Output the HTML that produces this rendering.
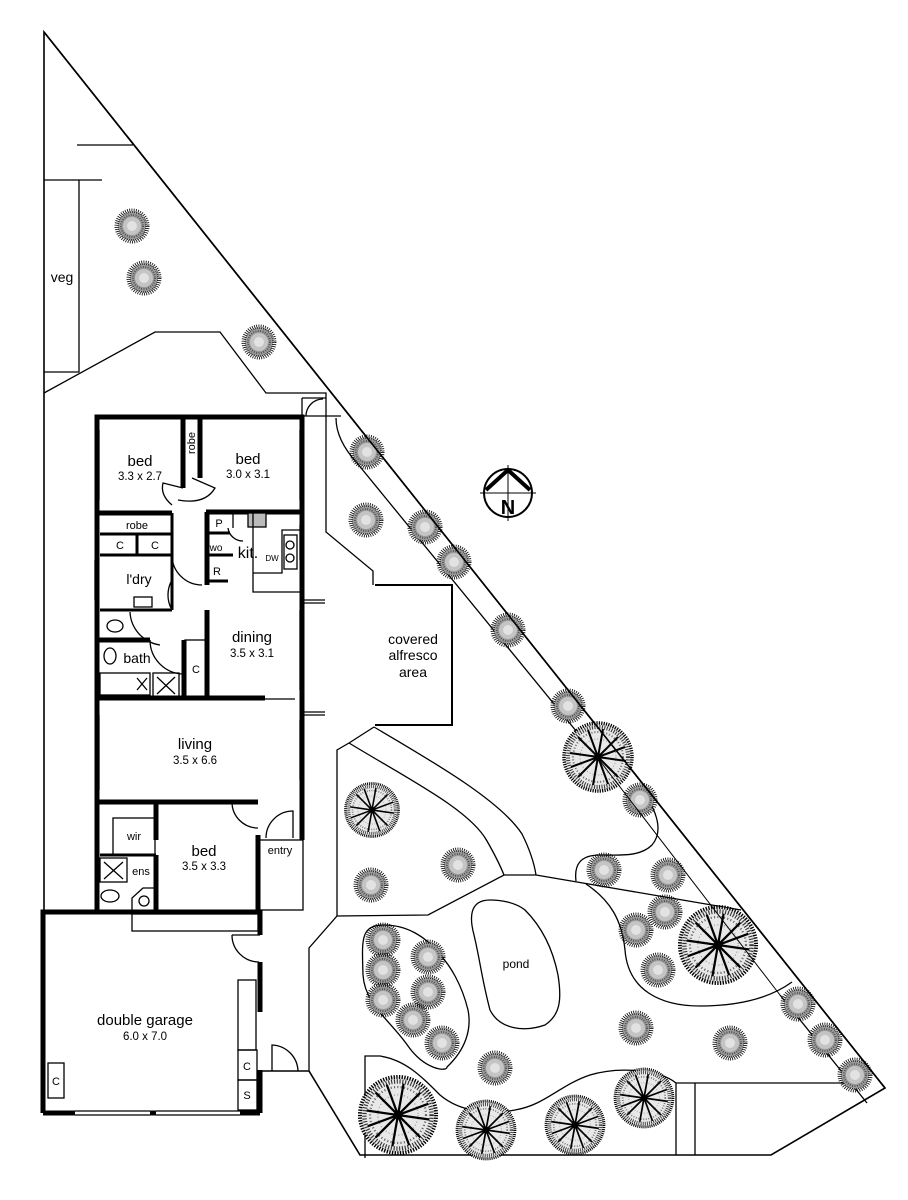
<!DOCTYPE html>
<html><head><meta charset="utf-8"><style>
html,body{margin:0;padding:0;background:#fff}
svg{display:block}
text{font-family:"Liberation Sans",sans-serif;fill:#000}
.l{font-size:15px;text-anchor:middle}
.d{font-size:11.5px;text-anchor:middle}
.s{font-size:11px;text-anchor:middle}
</style></head><body>
<svg width="908" height="1200" viewBox="0 0 908 1200" xmlns="http://www.w3.org/2000/svg">
<defs>
<symbol id="sh" viewBox="-20 -20 40 40" overflow="visible">
<circle r="16" fill="none" stroke="#000" stroke-width="3" stroke-dasharray="0.8 1.4"/>
<circle r="14" fill="#9a9a9a" stroke="#222" stroke-width="1.5" stroke-dasharray="1 1"/>
<circle r="9" fill="#c4c4c4"/>
<circle r="11" fill="none" stroke="#444" stroke-width="2" stroke-dasharray="0.8 1.6"/>
<circle r="5" fill="#e2e2e2"/>
</symbol>
<symbol id="tr" viewBox="-40 -40 80 80" overflow="visible">
<circle r="34" fill="#e8e8e8" stroke="#000" stroke-width="3.5" stroke-dasharray="1.2 1.2"/>
<circle r="30" fill="none" stroke="#333" stroke-width="4" stroke-dasharray="1 1.5"/>
<circle r="25" fill="none" stroke="#666" stroke-width="2" stroke-dasharray="1 2"/>
<circle r="18" fill="none" stroke="#999" stroke-width="1" stroke-dasharray="1 2"/>
<g stroke="#000" stroke-width="2">
<line x1="-28" y1="-4" x2="28" y2="4"/><line x1="-10" y1="-27" x2="10" y2="27"/>
<line x1="-20" y1="-20" x2="20" y2="20"/><line x1="20" y1="-20" x2="-20" y2="20"/>
<line x1="-27" y1="10" x2="27" y2="-10"/><line x1="5" y1="-28" x2="-5" y2="28"/>
</g>
<circle r="4" fill="#000"/>
</symbol>
</defs>
<g fill="none" stroke="#000" stroke-width="1.3">
<polyline points="44,912 44,32 885,1088 771,1155 360,1155 309,1071 260,1071" stroke-width="1.6"/>
<line x1="77" y1="145" x2="133" y2="145"/>
<polyline points="102,180 44,180"/>
<polyline points="79,180 79,372 44,372"/>
<polyline points="44,393 155,332 220,332 266,393 326,393 326,532 373,571 373,585"/>
<line x1="302" y1="398" x2="302" y2="416"/>
<line x1="302" y1="398" x2="326" y2="398"/>
<path d="M306,416 A17,17 0 0 1 323,399"/>
<line x1="300" y1="416" x2="341" y2="416"/>
<path d="M336,418 Q336,440 357,463 L590,748"/>
<line x1="780" y1="995" x2="867" y2="1103"/>
<polyline points="375,585 452,585 452,725 375,725" stroke-width="2"/>
<polyline points="309,1071 309,948 337,916 428,915 504,875 536,875 741,910" />
<polyline points="337,916 337,750 349,743"/>
<line x1="349" y1="743" x2="374" y2="727"/>
<path d="M349,743 C410,780 470,810 487,841 C495,855 500,865 504,875"/>
<path d="M374,727 C430,760 500,800 522,834 C530,850 534,862 536,875"/>
<path d="M576,881 C574,865 580,855 600,855 C620,855 640,857 652,845 C665,830 655,805 638,787"/>
<path d="M586,884 C610,900 622,920 625,950 C628,990 660,1006 700,1006 C740,1006 770,998 792,982"/>
<path d="M384,925 C360,925 362,940 363,975 C365,1005 390,1020 408,1046 C425,1070 447,1072 447,1067 C465,1050 472,1030 468,1010 C462,985 450,965 440,955 C425,935 405,925 384,925 Z"/>
<path d="M490,900 C468,900 470,920 474,935 C480,960 482,980 490,1010 C500,1030 525,1032 545,1025 C560,1015 562,1000 558,975 C552,945 540,925 525,910 C515,902 500,900 490,900 Z"/>
<path d="M365,1158 L365,1056 L380,1056 C405,1060 420,1075 440,1095 C460,1112 490,1115 515,1110 C545,1105 560,1085 590,1075 C620,1066 660,1070 676,1083"/>
<line x1="676" y1="1083" x2="676" y2="1155"/>
<line x1="695" y1="1083" x2="695" y2="1155"/>
<line x1="676" y1="1083" x2="852" y2="1083"/>
</g>
<g stroke="#000" fill="none">
<circle cx="508" cy="493" r="24" stroke-width="2"/>
<line x1="508" y1="465" x2="508" y2="521" stroke-width="1"/>
<line x1="480" y1="493" x2="536" y2="493" stroke-width="1"/>
<polyline points="486,490 508,470 530,490" stroke-width="4"/>
</g>
<text x="508" y="514" style="font-size:20px;font-weight:bold;text-anchor:middle">N</text>
<g>
<use href="#sh" x="112" y="206" width="40" height="40"/>
<use href="#sh" x="124" y="258" width="40" height="40"/>
<use href="#sh" x="239" y="322" width="40" height="40"/>
<use href="#sh" x="347" y="432" width="40" height="40"/>
<use href="#sh" x="346" y="500" width="40" height="40"/>
<use href="#sh" x="405" y="507" width="40" height="40"/>
<use href="#sh" x="434" y="542" width="40" height="40"/>
<use href="#sh" x="488" y="610" width="40" height="40"/>
<use href="#sh" x="548" y="686" width="40" height="40"/>
<use href="#sh" x="620" y="780" width="40" height="40"/>
<use href="#sh" x="438" y="845" width="40" height="40"/>
<use href="#sh" x="351" y="865" width="40" height="40"/>
<use href="#sh" x="584" y="850" width="40" height="40"/>
<use href="#sh" x="648" y="855" width="40" height="40"/>
<use href="#sh" x="645" y="892" width="40" height="40"/>
<use href="#sh" x="616" y="910" width="40" height="40"/>
<use href="#sh" x="638" y="950" width="40" height="40"/>
<use href="#sh" x="363" y="920" width="40" height="40"/>
<use href="#sh" x="363" y="950" width="40" height="40"/>
<use href="#sh" x="408" y="937" width="40" height="40"/>
<use href="#sh" x="363" y="980" width="40" height="40"/>
<use href="#sh" x="408" y="972" width="40" height="40"/>
<use href="#sh" x="393" y="1000" width="40" height="40"/>
<use href="#sh" x="422" y="1023" width="40" height="40"/>
<use href="#sh" x="475" y="1048" width="40" height="40"/>
<use href="#sh" x="616" y="1008" width="40" height="40"/>
<use href="#sh" x="710" y="1023" width="40" height="40"/>
<use href="#sh" x="778" y="984" width="40" height="40"/>
<use href="#sh" x="805" y="1020" width="40" height="40"/>
<use href="#sh" x="835" y="1055" width="40" height="40"/>
</g>
<g>
<use href="#tr" x="558" y="717" width="80" height="80"/>
<use href="#tr" x="678" y="905" width="80" height="80" transform="translate(718,945) scale(1.12) translate(-718,-945)"/>
<use href="#tr" x="332" y="770" width="80" height="80" transform="translate(372,810) scale(0.78) translate(-372,-810)"/>
<use href="#tr" x="358" y="1075" width="80" height="80" transform="translate(398,1115) scale(1.12) translate(-398,-1115)"/>
<use href="#tr" x="446" y="1090" width="80" height="80" transform="translate(486,1130) scale(0.85) translate(-486,-1130)"/>
<use href="#tr" x="535" y="1085" width="80" height="80" transform="translate(575,1125) scale(0.85) translate(-575,-1125)"/>
<use href="#tr" x="604" y="1058" width="80" height="80" transform="translate(644,1098) scale(0.85) translate(-644,-1098)"/>
</g>
<line x1="44" y1="32" x2="885" y2="1088" stroke="#000" stroke-width="1.6"/>
<line x1="590" y1="748" x2="780" y2="995" stroke="#000" stroke-width="1"/>
<g stroke="#000" fill="none">
<g stroke-width="5">
<polyline points="97,700 97,417 302,417 302,700"/>
<line x1="183" y1="417" x2="183" y2="488"/>
<line x1="200" y1="417" x2="200" y2="478"/>
<line x1="97" y1="513" x2="172" y2="513"/>
<line x1="206" y1="512" x2="302" y2="512"/>
<line x1="207" y1="512" x2="207" y2="585"/>
<line x1="207" y1="610" x2="207" y2="698"/>
<line x1="97" y1="698" x2="265" y2="698"/>
<line x1="97" y1="640" x2="150" y2="640"/>
<line x1="184" y1="640" x2="184" y2="698"/>
<line x1="97" y1="700" x2="97" y2="802"/>
<line x1="302" y1="698" x2="302" y2="840"/>
<line x1="97" y1="802" x2="258" y2="802"/>
<line x1="258" y1="835" x2="258" y2="912"/>
<line x1="97" y1="802" x2="97" y2="912"/>
<line x1="156" y1="802" x2="156" y2="840"/>
<line x1="156" y1="855" x2="156" y2="912"/>
<polyline points="43,1113 43,912 260,912 260,935"/>
<line x1="260" y1="962" x2="260" y2="1012"/>
<line x1="260" y1="1070" x2="260" y2="1113"/>
<line x1="43" y1="1113" x2="75" y2="1113"/>
<line x1="150" y1="1113" x2="156" y2="1113"/>
<line x1="240" y1="1113" x2="260" y2="1113"/>
</g>
<g stroke-width="3">
<line x1="172" y1="513" x2="172" y2="610"/>
<line x1="100" y1="534" x2="172" y2="534"/>
<line x1="100" y1="555" x2="172" y2="555"/>
<line x1="137" y1="534" x2="137" y2="555"/>
<line x1="100" y1="610" x2="172" y2="610"/>
<line x1="207" y1="555" x2="233" y2="555"/>
<line x1="207" y1="533" x2="230" y2="533"/>
<line x1="207" y1="581" x2="228" y2="581"/>
<line x1="100" y1="855" x2="156" y2="855"/>
</g>
<g stroke-width="1.3">
<rect x="100" y="673" width="50" height="22"/>
<rect x="153" y="673" width="26" height="24"/>
<line x1="157" y1="677" x2="175" y2="694"/><line x1="175" y1="677" x2="157" y2="694"/>
<line x1="137" y1="678" x2="147" y2="690"/><line x1="147" y1="678" x2="137" y2="690"/>
<rect x="134" y="597" width="18" height="10"/>
<ellipse cx="115" cy="626" rx="8" ry="6"/>
<ellipse cx="110" cy="656" rx="6" ry="8"/>
<polyline points="233,513 233,528"/>
<rect x="248" y="513" width="18" height="14" fill="#bbb"/>
<polyline points="253,513 253,592 300,592"/>
<polyline points="253,573 282,573 282,530 300,530"/>
<rect x="284" y="535" width="13" height="34"/>
<circle cx="290" cy="545" r="4"/><circle cx="290" cy="558" r="4"/>
<path d="M172,610 A30,30 0 0 1 172,580"/>
<path d="M172,555 A30,30 0 0 0 202,585"/>
<path d="M183,488 L163,483 Q160,495 172,505"/>
<path d="M192,478 L215,488 Q205,505 178,500"/>
<path d="M150,640 A34,34 0 0 0 184,674"/>
<path d="M130,612 A35,35 0 0 0 160,645"/>
<path d="M228,528 A15,15 0 0 0 243,541"/>
<rect x="185" y="640" width="22" height="58"/>
<rect x="113" y="818" width="42" height="37"/>
<rect x="100" y="858" width="27" height="24"/>
<line x1="104" y1="862" x2="123" y2="879"/><line x1="123" y1="862" x2="104" y2="879"/>
<ellipse cx="110" cy="896" rx="9" ry="6"/>
<polyline points="132,912 132,898 143,888 156,888"/>
<circle cx="144" cy="901" r="5"/>
<path d="M232,802 A26,26 0 0 0 258,828"/>
<path d="M266,838 A27,27 0 0 1 293,811 L293,838"/>
<rect x="258" y="840" width="45" height="70"/>
<rect x="132" y="914" width="126" height="17"/>
<path d="M232,935 A27,27 0 0 0 259,962"/>
<line x1="232" y1="935" x2="260" y2="935"/>
<rect x="238" y="980" width="18" height="70"/>
<rect x="238" y="1050" width="19" height="30"/>
<rect x="238" y="1080" width="19" height="30"/>
<rect x="48" y="1063" width="16" height="35"/>
<line x1="75" y1="1111" x2="150" y2="1111"/><line x1="75" y1="1115" x2="150" y2="1115"/>
<line x1="156" y1="1111" x2="240" y2="1111"/><line x1="156" y1="1115" x2="240" y2="1115"/>
<path d="M272,1071 L272,1045 A27,27 0 0 1 298,1071"/>
<line x1="302" y1="600" x2="325" y2="600"/><line x1="302" y1="603" x2="325" y2="603"/>
<line x1="302" y1="712" x2="325" y2="712"/><line x1="302" y1="715" x2="325" y2="715"/>
<line x1="265" y1="699" x2="295" y2="699"/>
</g>
<g stroke-width="1.3">
<line x1="99" y1="430" x2="99" y2="500"/><line x1="95" y1="560" x2="95" y2="600"/>
<line x1="99" y1="715" x2="99" y2="790"/><line x1="300" y1="430" x2="300" y2="500"/>
<line x1="300" y1="525" x2="300" y2="560"/><line x1="300" y1="610" x2="300" y2="690"/>
<line x1="300" y1="720" x2="300" y2="780"/>
</g>
</g>
<text class="l" x="140" y="466">bed</text><text class="d" x="140" y="480">3.3 x 2.7</text>
<text class="l" x="248" y="464">bed</text><text class="d" x="248" y="478">3.0 x 3.1</text>
<text class="s" transform="translate(195,443) rotate(-90)">robe</text>
<text class="s" x="137" y="529">robe</text>
<text class="s" x="120" y="549">C</text><text class="s" x="155" y="549">C</text>
<text class="l" x="139" y="584" style="font-size:14px">l'dry</text>
<text class="l" x="137" y="663" style="font-size:14px">bath</text>
<text class="s" x="196" y="673">C</text>
<text class="s" x="219" y="527">P</text>
<text class="s" x="216" y="551" style="font-size:10px">wo</text>
<text class="s" x="217" y="575">R</text>
<text class="l" x="248" y="558" style="font-size:16px">kit.</text>
<text class="s" x="272" y="561" style="font-size:8px">DW</text>
<text class="l" x="252" y="642">dining</text><text class="d" x="252" y="657">3.5 x 3.1</text>
<text class="l" x="195" y="749">living</text><text class="d" x="195" y="764">3.5 x 6.6</text>
<text class="s" x="134" y="840">wir</text>
<text class="s" x="141" y="875">ens</text>
<text class="l" x="204" y="856">bed</text><text class="d" x="204" y="870">3.5 x 3.3</text>
<text class="s" x="280" y="854">entry</text>
<text class="l" x="145" y="1025">double garage</text><text class="d" x="145" y="1040">6.0 x 7.0</text>
<text class="s" x="247" y="1070">C</text><text class="s" x="247" y="1099">S</text>
<text class="s" x="56" y="1085">C</text>
<text class="l" x="62" y="282" style="font-size:14px">veg</text>
<text class="l" x="413" y="644" style="font-size:14px">covered</text>
<text class="l" x="413" y="660" style="font-size:14px">alfresco</text>
<text class="l" x="413" y="677" style="font-size:14px">area</text>
<text class="s" x="516" y="968" style="font-size:12px">pond</text>
</svg>
</body></html>
